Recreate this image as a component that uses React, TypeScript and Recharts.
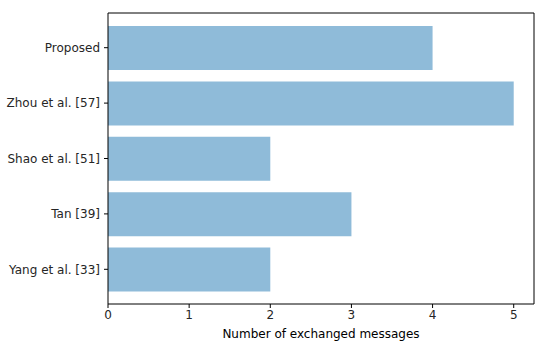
import React from "react";
import { BarChart, Bar, XAxis, YAxis } from "recharts";

const methods = ["Proposed", "Zhou et al. [57]", "Shao et al. [51]", "Tan [39]", "Yang et al. [33]"];
const messages = [4, 5, 2, 3, 2];
const xTicks = [0, 1, 2, 3, 4, 5];

const data = methods.map((m, i) => ({ method: m, value: messages[i] }));

const font = { fontFamily: "DejaVu Sans", fontSize: 12, fill: "#262626" };

export default function App() {
  return (
    <div style={{ position: "absolute", left: 0, top: 0, background: "#fff" }}>
      <BarChart
        width={550}
        height={344}
        data={data}
        layout="vertical"
        margin={{ top: 12, right: 15, bottom: 0, left: 0 }}
      >
        <XAxis
          type="number"
          domain={[0, 5.25]}
          ticks={xTicks}
          height={40}
          tickSize={4}
          tickMargin={2}
          tick={font}
          axisLine={{ stroke: "#000", strokeWidth: 1 }}
          tickLine={{ stroke: "#000" }}
          label={{ value: "Number of exchanged messages", position: "insideBottom", offset: 6, style: { ...font, fill: "#000" } }}
        />
        <XAxis
          xAxisId="top"
          orientation="top"
          type="number"
          domain={[0, 5.25]}
          height={1}
          tick={false}
          tickLine={false}
          axisLine={{ stroke: "#000", strokeWidth: 1 }}
        />
        <YAxis
          type="category"
          dataKey="method"
          width={108}
          tickSize={4}
          tickMargin={4}
          tick={font}
          padding={{ top: 7, bottom: 7 }}
          axisLine={{ stroke: "#000", strokeWidth: 1 }}
          tickLine={{ stroke: "#000" }}
        />
        <YAxis
          yAxisId="right"
          orientation="right"
          type="category"
          dataKey="method"
          width={1}
          tick={false}
          tickLine={false}
          axisLine={{ stroke: "#000", strokeWidth: 1 }}
        />
        <Bar dataKey="value" fill="#1f77b4" fillOpacity={0.5} barSize={44} isAnimationActive={false} />
        <Bar xAxisId="top" yAxisId="right" dataKey="value" fill="none" barSize={0} legendType="none" isAnimationActive={false} />
      </BarChart>
    </div>
  );
}
